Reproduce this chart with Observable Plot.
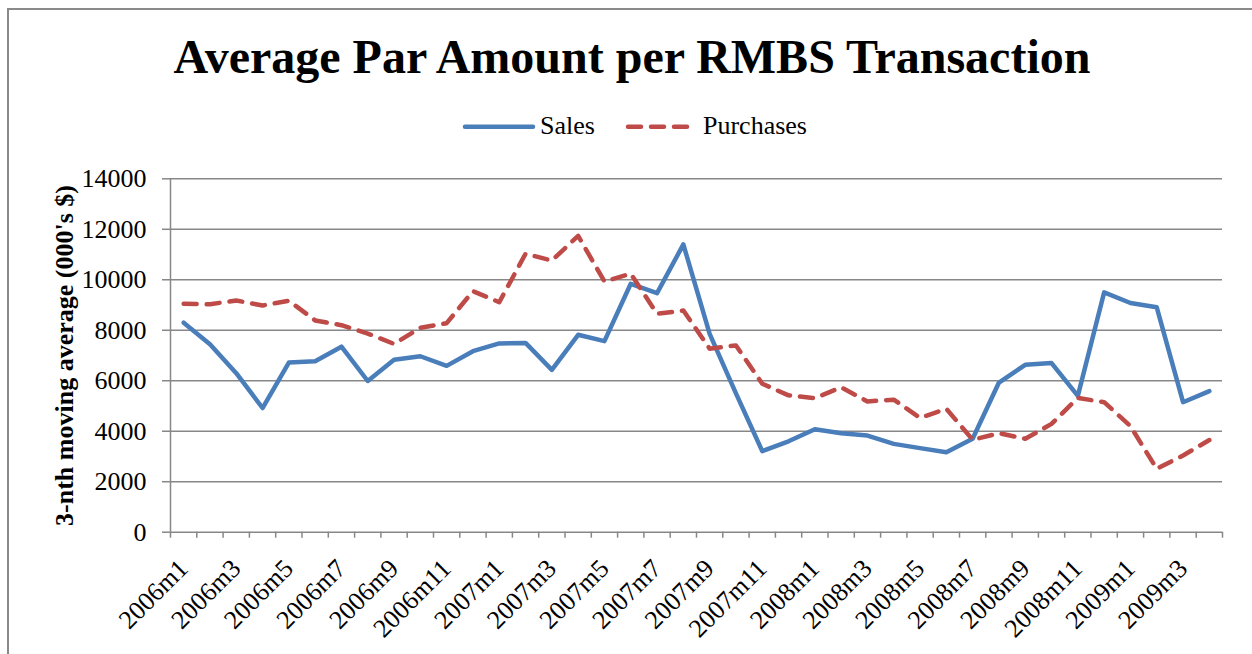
<!DOCTYPE html>
<html><head><meta charset="utf-8">
<script src="https://cdn.jsdelivr.net/npm/d3@7"></script>
<script src="https://cdn.jsdelivr.net/npm/@observablehq/plot@0.6"></script>
<style>
body{margin:0;background:#fff;font-family:"Liberation Serif","Times New Roman",serif;}
#wrap{position:relative;width:1252px;height:654px;overflow:hidden;background:#fff;}
#frame{position:absolute;left:7px;top:8px;width:1400px;height:800px;border-top:2px solid #8a8a8a;border-left:2px solid #8a8a8a;}
#title{position:absolute;left:0;width:1264px;top:32.8px;text-align:center;font-size:48px;line-height:48px;font-weight:bold;color:#000;white-space:nowrap;}
#legend{position:absolute;left:0;top:108px;width:1252px;height:40px;}
#legend span{position:absolute;font-size:26px;line-height:26px;color:#000;white-space:nowrap;}
#legend svg{position:absolute;left:0;top:0;}
#chart{position:absolute;left:0;top:150px;}
</style>
</head><body>
<div id="wrap">
  <div id="frame"></div>
  <div id="title">Average Par Amount per RMBS Transaction</div>
  <div id="legend">
    <svg width="1252" height="40">
      <line x1="465" x2="533" y1="18.7" y2="18.7" stroke="#4A7EBB" stroke-width="4.5" stroke-linecap="round"/>
      <line x1="628" x2="688" y1="18.7" y2="18.7" stroke="#BE4B48" stroke-width="4.5" stroke-linecap="round" stroke-dasharray="13,10"/>
    </svg>
    <span style="left:540px;top:5px;">Sales</span>
    <span style="left:703px;top:5px;">Purchases</span>
  </div>
  <div id="chart"></div>
</div>
<script>
const months = ["2006m1","2006m2","2006m3","2006m4","2006m5","2006m6","2006m7","2006m8","2006m9","2006m10","2006m11","2006m12",
  "2007m1","2007m2","2007m3","2007m4","2007m5","2007m6","2007m7","2007m8","2007m9","2007m10","2007m11","2007m12",
  "2008m1","2008m2","2008m3","2008m4","2008m5","2008m6","2008m7","2008m8","2008m9","2008m10","2008m11","2008m12",
  "2009m1","2009m2","2009m3","2009m4"];
const sales = [8300,7450,6300,4920,6720,6770,7350,5990,6830,6970,6590,7170,
  7480,7500,6430,7820,7570,9840,9470,11400,7860,5500,3210,3600,
  4080,3920,3830,3500,3330,3170,3700,5930,6630,6700,5400,9500,
  9080,8910,5150,5590];
const purchases = [9050,9030,9180,8980,9170,8390,8200,7870,7460,8100,8280,9550,
  9110,11030,10760,11740,9930,10240,8650,8780,7270,7400,5880,5420,
  5310,5740,5180,5250,4530,4890,3660,3920,3700,4290,5320,5150,
  4200,2510,3040,3650];
const yTicks = [0,2000,4000,6000,8000,10000,12000,14000];
const yLabel = "3-nth moving average (000's $)";

const data = months.map((m, i) => ({i, month: m, sales: sales[i], purchases: purchases[i]}));
const boundaries = d3.range(months.length + 1).map(k => k - 0.5);
const labelIdx = months.map((m, i) => i).filter(i => i % 2 === 0);
const gray = "#878787";

const chart = Plot.plot({
  width: 1252,
  height: 504,
  marginTop: 28.3,
  marginBottom: 122.3,
  marginLeft: 170,
  marginRight: 30,
  style: {fontFamily: "'Liberation Serif','Times New Roman',serif", fontSize: "26px", color: "#000", background: "transparent", overflow: "visible"},
  x: {domain: [-0.5, months.length - 0.5], axis: null},
  y: {domain: [0, 14000], axis: null},
  marks: [
    Plot.gridY(yTicks, {stroke: gray, strokeOpacity: 1, strokeWidth: 1.5}),
    Plot.ruleX([-0.5], {y1: 0, y2: 14000, stroke: gray, strokeWidth: 1.5}),
    Plot.axisY(yTicks, {tickSize: 8, tickPadding: 16, stroke: gray, strokeWidth: 1.5, fill: "#000", fontSize: 26, label: null, tickFormat: d => String(d)}),
    Plot.axisX(boundaries, {tickSize: 6, stroke: gray, strokeWidth: 1.5, tickFormat: () => "", label: null}),
    Plot.axisX(labelIdx, {tickSize: 0, tickRotate: -45, tickPadding: 32, fontSize: 26, fill: "#000", tickFormat: i => months[i], label: null, dx: 0}),
    Plot.text([yLabel], {frameAnchor: "left", text: d => d, rotate: -90, dx: -98, textAnchor: "middle", lineAnchor: "bottom", fontWeight: "bold", fontSize: 26, fill: "#000"}),
    Plot.line(data, {x: "i", y: "sales", stroke: "#4A7EBB", strokeWidth: 4.5, strokeLinejoin: "round", strokeLinecap: "round"}),
    Plot.line(data, {x: "i", y: "purchases", stroke: "#BE4B48", strokeWidth: 4.5, strokeLinejoin: "round", strokeLinecap: "round", strokeDasharray: "13,10"})
  ]
});
document.getElementById("chart").appendChild(chart);
</script>
</body></html>
